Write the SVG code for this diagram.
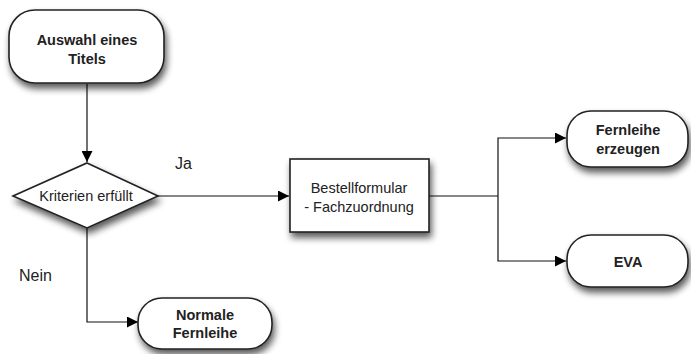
<svg xmlns="http://www.w3.org/2000/svg" width="691" height="354" viewBox="0 0 691 354">
  <defs>
    <filter id="shadow" x="-20%" y="-20%" width="150%" height="160%">
      <feGaussianBlur in="SourceAlpha" stdDeviation="3.5"/>
      <feOffset dx="2" dy="5" result="blur"/>
      <feComponentTransfer><feFuncA type="linear" slope="0.65"/></feComponentTransfer>
      <feMerge><feMergeNode/><feMergeNode in="SourceGraphic"/></feMerge>
    </filter>
    <marker id="arrow" viewBox="0 0 10 10" refX="10" refY="5" markerWidth="11" markerHeight="11" markerUnits="userSpaceOnUse" orient="auto">
      <path d="M0,0 L10,5 L0,10 z" fill="#000"/>
    </marker>
  </defs>
  <style>
    .shape { fill: #fff; stroke: #222; stroke-width: 1.6; filter: url(#shadow); }
    .edge { fill: none; stroke: #111; stroke-width: 1.2; }
    .bold { font-family: "Liberation Sans", Arial, sans-serif; font-weight: bold; font-size: 14.5px; fill: #222; text-anchor: middle; }
    .plain { font-family: "Liberation Sans", Arial, sans-serif; font-size: 14.5px; fill: #222; text-anchor: middle; }
    .label { font-family: "Liberation Sans", Arial, sans-serif; font-size: 16px; fill: #222; }
  </style>

  <g id="connectors">
    <path class="edge" d="M87,84 L87,162" marker-end="url(#arrow)"/>
    <path class="edge" d="M158,196 L289,196" marker-end="url(#arrow)"/>
    <path class="edge" d="M87,228 L87,322 L138,322" marker-end="url(#arrow)"/>
    <path class="edge" d="M429,196 L498,196"/>
    <path class="edge" d="M498,196 L498,138 L566,138" marker-end="url(#arrow)"/>
    <path class="edge" d="M498,196 L498,261 L566,261" marker-end="url(#arrow)"/>
    <text class="label" x="175" y="169">Ja</text>
    <text class="label" x="19" y="281">Nein</text>
  </g>

  <g id="auswahl">
    <rect class="shape" x="9" y="10" width="155" height="73" rx="26" ry="26"/>
    <text class="bold" x="87" y="45">Auswahl eines</text>
    <text class="bold" x="87" y="64">Titels</text>
  </g>

  <g id="kriterien">
    <polygon class="shape" points="87,163 158,196 87,228 13,196"/>
    <text class="plain" x="86" y="201">Kriterien erfüllt</text>
  </g>

  <g id="bestellformular">
    <rect class="shape" x="290" y="159" width="139" height="73"/>
    <text class="plain" x="359" y="193">Bestellformular</text>
    <text class="plain" x="359" y="212">- Fachzuordnung</text>
  </g>

  <g id="normale-fernleihe">
    <rect class="shape" x="138" y="298" width="134" height="51" rx="24" ry="24"/>
    <text class="bold" x="205" y="320">Normale</text>
    <text class="bold" x="205" y="338">Fernleihe</text>
  </g>

  <g id="fernleihe-erzeugen">
    <rect class="shape" x="567" y="111" width="121" height="56" rx="24" ry="24"/>
    <text class="bold" x="628" y="135">Fernleihe</text>
    <text class="bold" x="628" y="154">erzeugen</text>
  </g>

  <g id="eva">
    <rect class="shape" x="567" y="235" width="121" height="52" rx="24" ry="24"/>
    <text class="bold" x="628" y="267">EVA</text>
  </g>
</svg>
